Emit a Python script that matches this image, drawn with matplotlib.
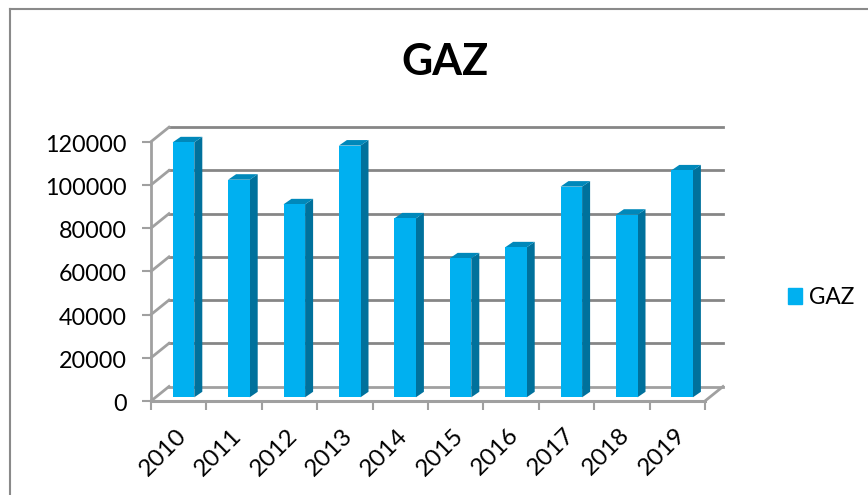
import numpy as np
import matplotlib
matplotlib.use("Agg")
import matplotlib.pyplot as plt
from matplotlib.patches import Polygon, Patch
from matplotlib.transforms import ScaledTranslation

# Datos
years = ['2010', '2011', '2012', '2013', '2014', '2015', '2016', '2017', '2018', '2019']
gaz = [118000, 100700, 89300, 116500, 82800, 64300, 69400, 97500, 84500, 105000]
y_ticks = [0, 20000, 40000, 60000, 80000, 100000, 120000]

W, H = 868, 495
LEFT, RIGHT = 151, 705      # plano frontal en pixeles
BOTTOM, TOP = 401, 141.7
DEPTH_X, DEPTH_Y = 18, 14.5 # fondo de la caja 3D

FRONT = '#00B0F0'
SIDE = '#00719C'
TOPC = '#0088BA'
GRID = '#868686'
AXIS = '#A0A0A0'

plt.rcParams['font.family'] = ['Lato', 'DejaVu Sans']

fig = plt.figure(figsize=(W / 100, H / 100), dpi=100)
ax = fig.add_axes([LEFT / W, 1 - BOTTOM / H, (RIGHT - LEFT) / W, (BOTTOM - TOP) / H])
ax.set_xlim(0, len(years))
ax.set_ylim(0, 120000)

# conversion de pixeles a unidades de datos
ux = len(years) / (RIGHT - LEFT)
uy = 120000 / (BOTTOM - TOP)
dx, dy = DEPTH_X * ux, DEPTH_Y * uy

for s in ax.spines.values():
    s.set_visible(False)
ax.patch.set_visible(False)

# paredes y lineas de la caja
for v in y_ticks:
    ax.plot([dx, len(years) + dx], [v + dy, v + dy], color=GRID if v else AXIS, lw=2,
            clip_on=False, zorder=1)
    ax.plot([0, dx], [v, v + dy], color=AXIS, lw=2, clip_on=False, zorder=1)
ax.plot([len(years), len(years) + dx], [0, dy], color=AXIS, lw=2, clip_on=False, zorder=1)
ax.plot([0, len(years)], [0, 0], color=AXIS, lw=2.2, clip_on=False, zorder=2)
ax.plot([0, 0], [0, 120000], color=AXIS, lw=2, clip_on=False, zorder=2)

# barras en 3D
bar_w = 21.6 * ux
off_x = 4.8 * ux
base = 3.7 * uy
d_x = 8 * ux
d_y = 5.5 * uy
centers = np.arange(len(years)) + 0.5 + off_x
for c, v in zip(centers, gaz):
    l, r = c - bar_w / 2, c + bar_w / 2
    t = v + base
    ax.add_patch(Polygon([(r, base), (r + d_x, base + d_y), (r + d_x, t + d_y), (r, t)],
                         facecolor=SIDE, edgecolor='none', clip_on=False, zorder=3))
    ax.add_patch(Polygon([(l, t), (l + d_x, t + d_y), (r + d_x, t + d_y), (r, t)],
                         facecolor=TOPC, edgecolor='none', clip_on=False, zorder=3))
ax.bar(centers, gaz, width=bar_w, bottom=base, color=FRONT, edgecolor='none',
       clip_on=False, zorder=4)

# ejes
ax.set_yticks(y_ticks)
ax.set_yticklabels([str(v) for v in y_ticks], fontsize=16.8, color='black')
ax.tick_params(axis='y', length=6.5, width=1.5, color=AXIS, pad=11)
ax.set_xticks(np.arange(len(years) + 1))
ax.set_xticklabels([])
ax.tick_params(axis='x', which='major', length=6.5, width=1.5, color=AXIS)
ax.set_xticks(np.arange(len(years)) + 0.5, minor=True)
ax.set_xticklabels(years, minor=True, rotation=45, ha='right', va='top', rotation_mode='anchor',
                   fontsize=17.5, color='black')
ax.tick_params(axis='x', which='minor', length=0, pad=17)
# pequeños ajustes de posicion de las etiquetas
shift_x = ScaledTranslation(-3 / 100, 0, fig.dpi_scale_trans)
for lab in ax.get_xticklabels(minor=True):
    lab.set_transform(lab.get_transform() + shift_x)
shift_y = ScaledTranslation(0, -1.5 / 100, fig.dpi_scale_trans)
for lab in ax.get_yticklabels():
    lab.set_transform(lab.get_transform() + shift_y)

fig.text(445 / W, 1 - 62 / H, 'GAZ', fontsize=31, fontweight='bold', ha='center', va='center')

ax.legend(handles=[Patch(color=FRONT, label='GAZ')], loc='center left',
          bbox_to_anchor=(783 / W, 1 - 297.5 / H), bbox_transform=fig.transFigure,
          frameon=False, fontsize=16.3, handlelength=0.66, handleheight=0.66, handletextpad=0.3,
          borderpad=0.2, borderaxespad=0)

# marco del grafico
fig.add_artist(plt.Line2D([10 / W, 10 / W], [0, 1 - 9 / H], color='#8A8A8A', lw=1.5))
fig.add_artist(plt.Line2D([10 / W, 1], [1 - 9 / H, 1 - 9 / H], color='#8A8A8A', lw=1.5))

fig.savefig('out.png', dpi=100)
